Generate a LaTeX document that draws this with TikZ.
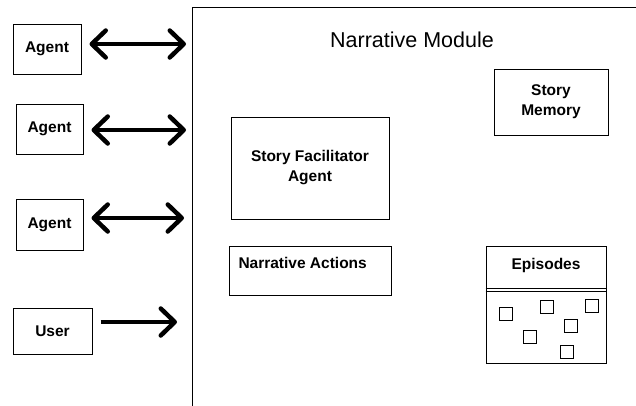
\documentclass[tikz,border=0pt]{standalone}
\usepackage{fontspec}
\setmainfont{Liberation Sans}
\usetikzlibrary{positioning,arrows.meta}

\begin{document}
\begin{tikzpicture}[x=1pt, y=-1pt, line width=1pt,
    box/.style = {draw, font=\fontsize{15.5}{20}\selectfont\bfseries, align=center, inner sep=0pt},
    sq/.style = {draw, minimum size=13pt, inner sep=0pt},
    barb/.tip = {Straight Barb[length=14pt, width=27pt, round]},
    twoway/.style = {line width=4.5pt, barb-barb, shorten <=8pt},
    oneway/.style = {line width=4.5pt, -barb, shorten <=8pt}]
    \useasboundingbox (0,0) rectangle (636,405);
    \clip (0,0) rectangle (636,405);

    % the module
    \draw (192,7) rectangle (650,420);
    \node[font=\fontsize{21.5}{24}\selectfont] (title) at (412,40) {Narrative Module};
    \node[box, minimum width=158pt, minimum height=102pt] (sfa) at (310,168) {Story Facilitator\\Agent};
    \node[box, minimum width=162pt, minimum height=49pt] (actions) at (310,270.5) {};
    \node[box, draw=none, anchor=west] (actionstext) at (238,263) {Narrative Actions};
    \node[box, minimum width=114pt, minimum height=66pt] (memory) at (551,102) {Story\\Memory};
    \node[box, minimum width=120pt, minimum height=117pt] (episodes) at (546,304.5) {};
    \node[box, draw=none] (eptitle) at (546,265) {Episodes};
    \draw ([yshift=-43pt]episodes.north west) -- ([yshift=-43pt]episodes.north east);
    \draw ([yshift=-46pt]episodes.north west) -- ([yshift=-46pt]episodes.north east);
    \foreach \x/\y [count=\i] in {506/314, 547/307, 592/306, 571/326, 530/337, 567/352}
        \node[sq] (ep\i) at (\x,\y) {};

    % outside the module
    \node[box, minimum width=68pt, minimum height=50pt] (a1) at (47,49) {Agent};
    \node[box, minimum width=67pt, minimum height=50pt] (a2) at (49.5,129) {Agent};
    \node[box, minimum width=67pt, minimum height=51pt] (a3) at (49.5,224.5) {Agent};
    \node[box, minimum width=79pt, minimum height=46pt] (user) at (52.5,331) {User};

    \coordinate (m1) at (186,44);
    \coordinate (m2) at (186,130);
    \coordinate (m3) at (184,218);
    \coordinate (m4) at (177,322);

    \draw[twoway] (a1.east |- m1) -- (m1);
    \draw[twoway] (a2.east |- m2) -- (m2);
    \draw[twoway] (a3.east |- m3) -- (m3);
    \draw[oneway] (user.east |- m4) -- (m4);
\end{tikzpicture}
\end{document}
